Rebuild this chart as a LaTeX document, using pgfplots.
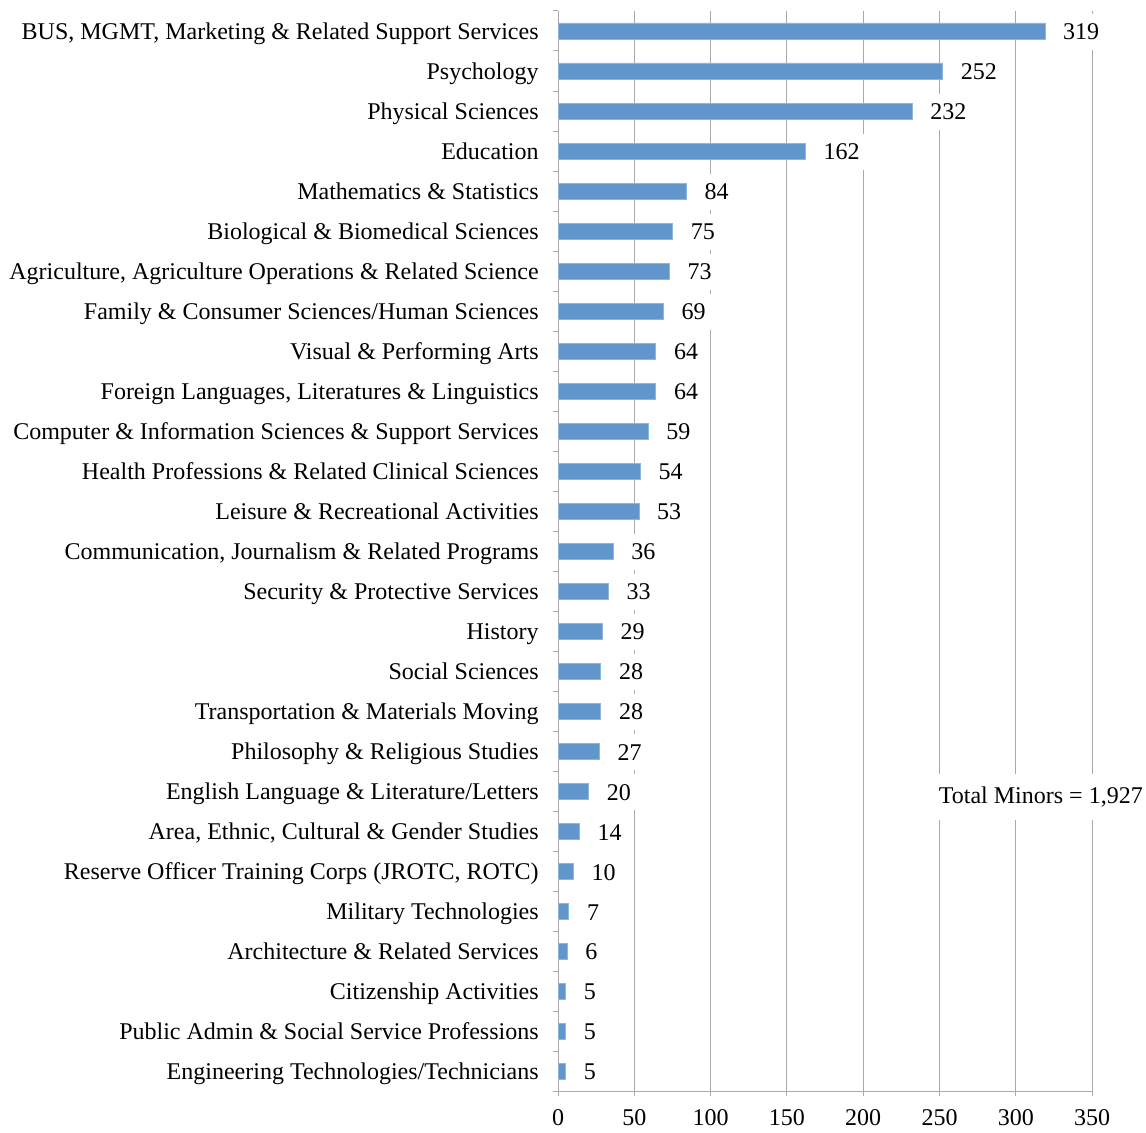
\documentclass[border=0pt]{standalone}
\usepackage{fontspec}
\setmainfont{Liberation Serif}
\usepackage{pgfplots}
\pgfplotsset{compat=1.18}

\definecolor{barblue}{RGB}{97,150,205}
\definecolor{gridgray}{RGB}{170,170,170}

\begin{document}
\begin{tikzpicture}
\begin{axis}[
  width=267pt, height=540pt, scale only axis,
  xbar, bar width=8pt,
  xmin=0, xmax=350, ymin=0.5, ymax=27.5,
  xtick={0,50,...,350},
  ytick={1,...,27},
  minor ytick={0.5,1.5,...,27.5},
  yticklabels={
    Engineering Technologies/Technicians,
    Public Admin \& Social Service Professions,
    Citizenship Activities,
    Architecture \& Related Services,
    Military Technologies,
    {Reserve Officer Training Corps (JROTC, ROTC)},
    {Area, Ethnic, Cultural \& Gender Studies},
    English Language \& Literature/Letters,
    Philosophy \& Religious Studies,
    Transportation \& Materials Moving,
    Social Sciences,
    History,
    Security \& Protective Services,
    {Communication, Journalism \& Related Programs},
    Leisure \& Recreational Activities,
    Health Professions \& Related Clinical Sciences,
    Computer \& Information Sciences \& Support Services,
    {Foreign Languages, Literatures \& Linguistics},
    Visual \& Performing Arts,
    Family \& Consumer Sciences/Human Sciences,
    {Agriculture, Agriculture Operations \& Related Science},
    Biological \& Biomedical Sciences,
    Mathematics \& Statistics,
    Education,
    Physical Sciences,
    Psychology,
    {BUS, MGMT, Marketing \& Related Support Services}},
  major y tick style={draw=none},
  minor y tick style={draw=gridgray, line width=0.5pt},
  tick align=outside,
  x tick style={draw=gridgray, line width=0.5pt},
  major tick length=2.5pt, minor tick length=2.5pt,
  axis x line*=bottom, axis y line*=left,
  axis line style={draw=gridgray, line width=0.5pt, -},
  xmajorgrids, grid style={draw=gridgray, line width=0.5pt},
  /pgf/number format/assume math mode=true,
  tick label style={font=\fontsize{12}{14}\selectfont},
  yticklabel style={anchor=east, inner xsep=0pt, xshift=-7pt, yshift=-1.2pt, text height=8.5pt, text depth=2.6pt},
  xticklabel style={yshift=-3pt},
  nodes near coords,
  every node near coord/.append style={font=\fontsize{12}{14}\selectfont, fill=white, anchor=west, inner xsep=3pt, minimum height=18pt, xshift=6pt, yshift=-0.5pt},
  clip=false,
]
\addplot[fill=barblue, draw=barblue!70!white, line width=0.3pt] coordinates {
  (5,1) (5,2) (5,3) (6,4) (7,5) (10,6) (14,7) (20,8) (27,9) (28,10)
  (28,11) (29,12) (33,13) (36,14) (53,15) (54,16) (59,17) (64,18) (64,19) (69,20)
  (73,21) (75,22) (84,23) (162,24) (232,25) (252,26) (319,27)};
\node[fill=white, anchor=west, inner xsep=1pt, minimum height=23pt, font=\fontsize{12}{14}\selectfont] at (axis cs:248,7.85) {Total Minors = 1,927};
\path (axis cs:-365.7,-0.475) rectangle (axis cs:385.3,27.775);
\end{axis}
\end{tikzpicture}
\end{document}
